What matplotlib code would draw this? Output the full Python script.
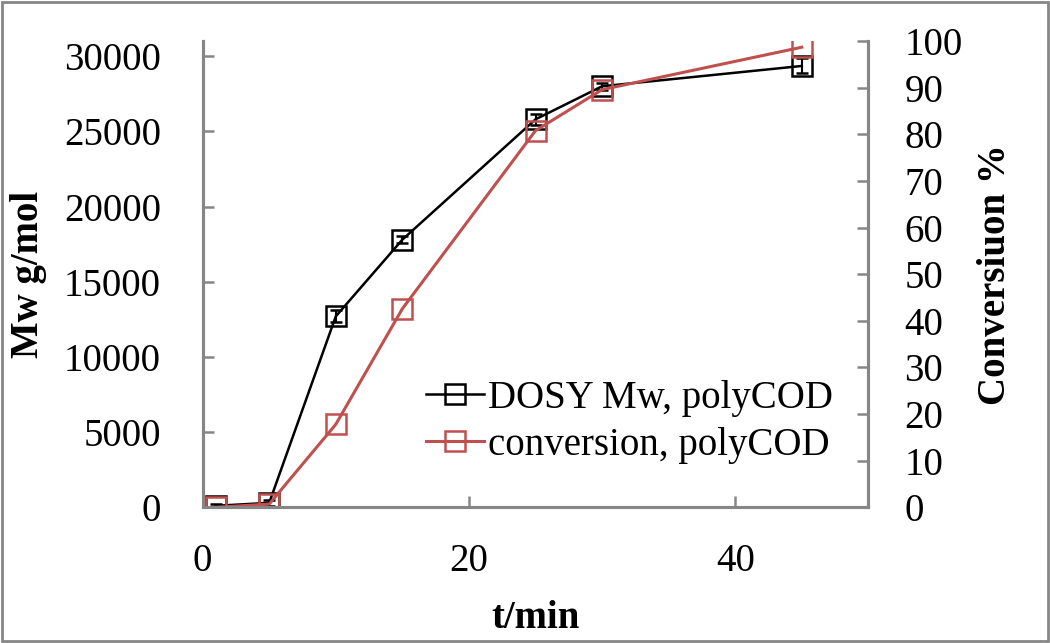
import matplotlib.pyplot as plt
from matplotlib.lines import Line2D
from matplotlib.patches import Rectangle

# data
t_min = [1, 5, 10, 15, 25, 30, 45]
mw_dosy = [100, 300, 12700, 17800, 25800, 28000, 29350]
mw_err = [150, 200, 400, 250, 350, 250, 500]
conversion = [0, 0.7, 17.8, 42.6, 80.8, 89.6, 98.7]

x_ticks = [0, 20, 40]
mw_ticks = [0, 5000, 10000, 15000, 20000, 25000, 30000]
conv_ticks = list(range(0, 101, 10))

red = "#C0504D"
grey = "#868686"

plt.rcParams["font.family"] = ["Liberation Serif", "DejaVu Serif"]

fig = plt.figure(figsize=(10.5, 6.43), dpi=100)
ax = fig.add_axes([0.193, 0.211, 0.634, 0.725])
ax2 = ax.twinx()

ax.errorbar(t_min, mw_dosy, yerr=mw_err, color="black", lw=1.8,
            marker="s", ms=15, mfc="none", mew=1.8, capsize=4,
            elinewidth=1.5, zorder=3)
ax2.plot(t_min, conversion, color=red, lw=2.2, marker="s", ms=15,
         mfc="none", mew=1.8)

ax.set_xlim(0, 50)
ax.set_ylim(0, 31000)
ax2.set_ylim(0, 100)
ax.set_xticks(x_ticks)
ax.set_yticks(mw_ticks)
ax2.set_yticks(conv_ticks)

for a in (ax, ax2):
    for s in a.spines.values():
        s.set_color(grey)
        s.set_linewidth(2.2)
    a.spines["top"].set_visible(False)
    a.tick_params(direction="in", length=8, width=1.8, color=grey,
                  labelsize=28)
ax.tick_params(axis="x", pad=26)
ax.tick_params(axis="y", pad=30)
ax2.tick_params(axis="y", pad=26)

ax.set_xlabel("t/min", fontsize=28, fontweight="bold", labelpad=14)
ax.set_ylabel("Mw g/mol", fontsize=28, fontweight="bold", labelpad=12)
ax2.set_ylabel("Conversiuon %", fontsize=28, fontweight="bold",
               labelpad=10)

h1 = Line2D([], [], color="black", lw=1.8, marker="s", ms=15,
            mfc="none", mew=1.8)
h2 = Line2D([], [], color=red, lw=2.2, marker="s", ms=15,
            mfc="none", mew=1.8)
ax.legend([h1, h2], ["DOSY Mw, polyCOD", "conversion, polyCOD"],
          loc="lower right", bbox_to_anchor=(0.97, 0.06), frameon=False,
          fontsize=28, handlelength=1.5, handletextpad=0.1,
          labelspacing=0.25, borderaxespad=0)

fig.patches.append(Rectangle((0.002, 0.003), 0.996, 0.994,
                             transform=fig.transFigure, fill=False,
                             edgecolor=grey, lw=2))

fig.savefig("out.png", dpi=100)
